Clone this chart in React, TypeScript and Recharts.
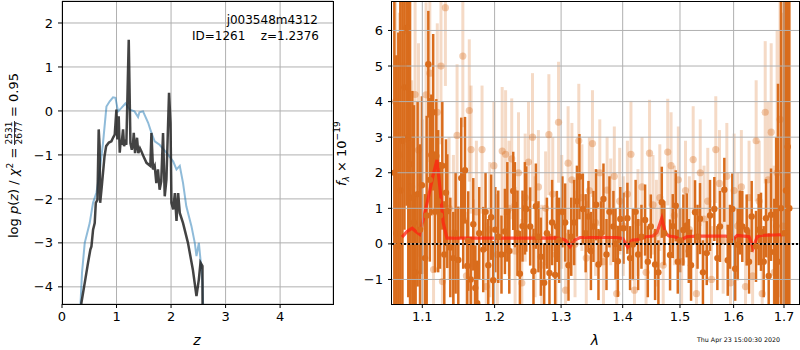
import React from "react"
import {
  ComposedChart,
  Line,
  Scatter,
  ErrorBar,
  XAxis,
  YAxis,
  CartesianGrid,
  ReferenceLine,
} from "recharts"

// ---- left panel: log p(z) ----
const zBlue = [0.335, 0.367, 0.417, 0.508, 0.569, 0.631, 0.68, 0.752, 0.815, 0.875, 0.936, 0.98, 1.028, 1.09, 1.163, 1.24, 1.33, 1.395, 1.42, 1.486, 1.58, 1.64, 1.7, 1.79, 1.916, 2.04, 2.1, 2.16, 2.22, 2.28, 2.374, 2.435, 2.466, 2.51, 2.545, 2.576, 2.59]
const pzBlue = [-4.5, -3.68, -3.0, -2.55, -2.09, -1.86, -1.49, -0.73, 0.1, 0.22, 0.31, 0.3, -0.01, 0.07, 0.17, 0.03, -0.01, -0.14, -0.03, -0.01, -0.27, -0.5, -0.69, -0.77, -0.95, -1.15, -1.33, -1.25, -1.64, -2.17, -2.62, -3.0, -3.3, -3.0, -3.45, -3.91, -4.5]

const zChi = [0.35, 0.356, 0.417, 0.478, 0.52, 0.54, 0.57, 0.6, 0.62, 0.65, 0.673, 0.69, 0.7, 0.73, 0.78, 0.81, 0.86, 0.906, 0.94, 0.967, 0.998, 1.016, 1.04, 1.059, 1.075, 1.09, 1.12, 1.138, 1.16, 1.18, 1.224, 1.255, 1.28, 1.3, 1.316, 1.34, 1.376, 1.4, 1.43, 1.457, 1.5, 1.55, 1.62, 1.64, 1.67, 1.7, 1.73, 1.76, 1.79, 1.82, 1.853, 1.884, 1.915, 1.963, 1.99, 2.007, 2.04, 2.07, 2.1, 2.13, 2.16, 2.22, 2.31, 2.4, 2.466, 2.51, 2.54, 2.576, 2.578]
const pzChi = [-4.5, -4.36, -3.91, -3.45, -3.15, -3.08, -2.7, -2.55, -2.09, -2.02, -0.42, -0.8, -2.09, -1.71, -1.03, -0.8, -0.72, -0.69, -0.6, -0.54, 0.03, -0.65, -0.12, -0.95, -0.7, -0.77, -0.42, -0.8, -0.72, -0.77, 1.62, -0.73, -0.88, -0.78, -0.5, -0.96, -0.61, -0.96, -0.85, -0.92, -1.05, -1.18, -1.25, -0.5, -1.33, -1.25, -1.64, -1.33, -1.79, -1.6, -0.5, -1.94, -1.56, 0.41, -0.27, -2.09, -2.24, -1.87, -2.5, -1.87, -2.32, -2.55, -3.0, -3.61, -4.21, -3.83, -3.45, -3.53, -4.5]

const zTicks = [0, 1, 2, 3, 4]
const pzTicks = [-4, -3, -2, -1, 0, 1, 2]

// ---- right panel: spectrum ----
const darkLam = [1.0636, 1.0661, 1.0687, 1.0713, 1.074, 1.0766, 1.0794, 1.0816, 1.0839, 1.0869, 1.089, 1.0912, 1.0938, 1.097, 1.0995, 1.1036, 1.1058, 1.108, 1.11, 1.112, 1.1145, 1.1169, 1.1187, 1.1212, 1.1237, 1.1268, 1.1295, 1.1318, 1.1336, 1.1377, 1.1418, 1.145, 1.1487, 1.1528, 1.1555, 1.158, 1.1612, 1.1625, 1.166, 1.1696, 1.1724, 1.1752, 1.178, 1.1837, 1.187, 1.1909, 1.195, 1.198, 1.201, 1.2053, 1.21, 1.215, 1.2185, 1.2214, 1.2272, 1.2297, 1.2335, 1.2371, 1.241, 1.2446, 1.2466, 1.2525, 1.2575, 1.2611, 1.265, 1.2687, 1.2738, 1.278, 1.2819, 1.286, 1.2907, 1.2934, 1.297, 1.302, 1.3064, 1.3116, 1.316, 1.3206, 1.325, 1.329, 1.3345, 1.339, 1.3435, 1.3475, 1.3516, 1.356, 1.3598, 1.364, 1.368, 1.373, 1.3779, 1.3845, 1.388, 1.3919, 1.396, 1.4013, 1.408, 1.4125, 1.4172, 1.422, 1.4263, 1.432, 1.4383, 1.443, 1.4482, 1.4557, 1.4615, 1.4675, 1.472, 1.4822, 1.487, 1.4924, 1.496, 1.5001, 1.5061, 1.5123, 1.516, 1.5201, 1.5274, 1.532, 1.5366, 1.542, 1.5491, 1.5552, 1.5633, 1.569, 1.574, 1.5822, 1.5887, 1.593, 1.5975, 1.603, 1.6079, 1.612, 1.6168, 1.6254, 1.63, 1.6352, 1.6437, 1.649, 1.6536, 1.659, 1.6636, 1.669, 1.6737, 1.6803, 1.684, 1.6878, 1.6939, 1.7, 1.704, 1.7076, 1.711]
const darkFlux = [2.0, 0.3, -0.06, 1.5, 2.9, 4.4, 6.07, 3.0, 2.24, 1.3, 0.6, -0.8, 1.4, 0.4, 1.65, -0.4, 0.8, 5.05, 1.8, 2.5, 3.7, 0.9, 2.47, 1.2, 0.8, 2.2, -0.3, 1.44, 0.92, -0.1, -0.4, 0.3, -0.45, 1.85, 0.7, 2.07, -0.62, 0.08, -1.0, 0.55, -1.24, -1.67, 0.3, -0.16, 0.9, -0.6, 0.75, -1.02, 0.4, 0.2, -0.3, 0.35, 0.9, -0.2, 1.49, 1.1, 0.3, -0.84, 0.5, 1.0, 0.98, 0.49, -0.77, 1.06, 0.2, -0.36, -1.09, 0.3, -0.82, 0.6, -0.87, 0.49, 0.1, 0.9, 0.6, -0.6, 0.2, 0.6, 1.2, 1.89, 0.98, 0.3, 0.77, -0.2, 0.49, 1.1, -0.58, 0.3, 1.26, -0.3, 0.9, 0.49, 0.0, -0.49, 0.7, 0.44, 0.72, -0.4, -0.02, 0.9, -0.3, 0.2, 0.67, -0.5, 0.49, -0.58, -0.8, 1.17, 0.3, -0.31, 0.5, 1.07, -0.5, 0.1, 0.39, 0.52, -0.2, -0.6, 0.89, 0.2, 0.71, -0.8, -0.26, 0.8, 0.98, -0.4, 0.49, 1.52, -0.46, 0.2, 0.98, -0.7, -0.02, 0.6, 0.49, 0.39, -0.5, 0.77, -0.07, 0.4, 0.34, -0.5, 0.72, -0.9, 0.82, -0.23, 0.5, -0.5, 1.0, 0.3, 1.5, 2.73, 1.0]
const darkErr = [6, 5, 6, 6, 5, 4, 5, 4.5, 5, 3.0, 3.3, 2.2, 2.6, 2.4, 2.5, 1.8, 2.8, 1.5, 2.3, 1.7, 2.2, 1.7, 1.6, 2.0, 1.5, 1.8, 1.5, 1.5, 1.6, 1.4, 1.3, 1.7, 1.5, 1.7, 1.4, 1.5, 1.3, 1.4, 1.2, 1.3, 1.2, 1.2, 1.3, 1.2, 1.1, 1.3, 1.2, 1.1, 1.2, 1.3, 1.1, 1.2, 1.4, 1.2, 1.1, 1.2, 1.2, 1.2, 1.0, 1.3, 1.2, 1.1, 1.2, 1.2, 1.0, 1.1, 1.1, 1.0, 1.1, 1.2, 1.1, 1.0, 1.2, 1.0, 1.1, 1.0, 1.1, 1.2, 1.0, 1.2, 1.0, 1.1, 1.0, 1.1, 1.0, 1.0, 1.0, 0.9, 1.0, 1.0, 1.0, 1.0, 1.0, 1.0, 0.9, 1.0, 1.0, 0.9, 1.0, 0.9, 1.0, 0.9, 1.0, 1.0, 0.9, 1.0, 0.9, 1.0, 0.9, 1.0, 0.9, 1.0, 0.9, 0.9, 1.0, 0.9, 0.9, 1.0, 0.9, 0.9, 1.0, 0.9, 0.9, 1.0, 0.9, 0.9, 1.0, 0.9, 1.0, 0.9, 1.0, 0.9, 1.0, 0.9, 1.0, 1.0, 0.9, 1.0, 1.0, 1.0, 1.1, 1.0, 1.1, 1.2, 1.3, 1.5, 2.5, 5, 6, 7, 8, 9, 9]

const lightLam = [1.065, 1.07, 1.075, 1.08, 1.083, 1.086, 1.0905, 1.095, 1.1, 1.105, 1.11, 1.115, 1.12, 1.125, 1.127, 1.131, 1.136, 1.142, 1.147, 1.155, 1.16, 1.164, 1.1665, 1.17, 1.174, 1.182, 1.188, 1.193, 1.199, 1.204, 1.211, 1.216, 1.221, 1.225, 1.23, 1.235, 1.24, 1.245, 1.25, 1.256, 1.26, 1.265, 1.27, 1.276, 1.281, 1.287, 1.292, 1.296, 1.301, 1.307, 1.311, 1.317, 1.322, 1.328, 1.333, 1.34, 1.345, 1.35, 1.355, 1.362, 1.368, 1.374, 1.38, 1.386, 1.39, 1.395, 1.401, 1.408, 1.414, 1.42, 1.426, 1.433, 1.44, 1.446, 1.452, 1.458, 1.464, 1.47, 1.478, 1.484, 1.49, 1.497, 1.503, 1.51, 1.517, 1.524, 1.53, 1.537, 1.544, 1.551, 1.558, 1.566, 1.573, 1.58, 1.587, 1.594, 1.601, 1.608, 1.615, 1.623, 1.63, 1.637, 1.644, 1.65, 1.656, 1.662, 1.668, 1.674, 1.68, 1.686, 1.692, 1.698]
const lightFlux = [4.0, 2.5, 5.0, 6.0, 2.8, 1.6, 4.2, 2.64, 0.5, 4.19, 4.8, -0.72, 3.7, 5.0, -1.06, 6.64, 1.0, 0.3, 3.05, 5.28, -0.9, 3.75, 2.65, -0.55, 0.9, 2.65, -1.2, 0.4, 2.2, -0.3, 2.61, 2.52, 1.0, 2.39, -0.2, 2.0, -1.1, 1.3, 2.3, 3.0, 0.2, 1.6, -0.6, 1.0, 3.07, 1.4, -0.3, 3.42, 0.9, -1.3, 2.27, 1.8, 0.0, 2.9, 1.3, -0.4, 1.5, 2.82, 0.6, 2.0, -0.5, 1.51, 0.9, 1.9, -1.4, 1.2, 0.5, 1.4, 2.52, -1.3, 0.6, 1.6, -0.8, 2.55, 1.1, 0.3, 1.3, -0.6, 2.58, 2.2, 0.8, 1.8, -0.5, 1.5, 0.4, 2.37, -1.4, 2.0, 0.7, 1.2, -1.0, 2.65, 1.7, 0.1, 1.9, -1.1, 1.5, 0.5, 1.6, -1.2, 1.3, -0.9, 2.9, 1.2, -1.4, 3.7, 1.8, 3.14, -0.8, 2.0, 3.5, 0.5]
const lightErr = [4, 4, 3.5, 3, 3.5, 3, 3, 3, 3, 2.6, 2.5, 2.5, 2.5, 2.2, 2.0, 2.2, 2.0, 2.2, 2.0, 2.0, 1.8, 2.0, 1.8, 1.8, 2.0, 1.8, 1.8, 1.9, 1.8, 1.7, 1.8, 1.8, 1.9, 1.7, 1.8, 1.7, 1.8, 1.8, 1.7, 1.8, 1.7, 1.6, 1.7, 1.6, 1.7, 1.6, 1.6, 1.7, 1.6, 1.6, 1.6, 1.6, 1.5, 1.6, 1.5, 1.6, 1.5, 1.5, 1.5, 1.5, 1.5, 1.5, 1.5, 1.4, 1.5, 1.5, 1.4, 1.5, 1.5, 1.4, 1.5, 1.4, 1.5, 1.5, 1.4, 1.5, 1.5, 1.4, 1.5, 1.5, 1.4, 1.5, 1.5, 1.4, 1.5, 1.5, 1.4, 1.5, 1.5, 1.5, 1.5, 1.5, 1.5, 1.5, 1.5, 1.5, 1.6, 1.5, 1.6, 1.6, 1.6, 1.6, 1.7, 1.7, 1.8, 2.0, 2.2, 2.5, 3, 4, 5, 6]

const modelLam = [1.0735, 1.08, 1.0866, 1.0915, 1.0965, 1.102, 1.108, 1.114, 1.1196, 1.124, 1.128, 1.1331, 1.16, 1.2, 1.25, 1.29, 1.3, 1.307, 1.314, 1.321, 1.33, 1.35, 1.39, 1.4, 1.4087, 1.416, 1.425, 1.44, 1.452, 1.459, 1.4675, 1.474, 1.48, 1.49, 1.503, 1.512, 1.53, 1.56, 1.585, 1.5995, 1.607, 1.62, 1.63, 1.638, 1.646, 1.655, 1.68, 1.7]
const modelFlux = [0.19, 0.35, 0.44, 0.35, 0.27, 0.75, 1.3, 1.9, 2.36, 1.5, 0.6, 0.16, 0.16, 0.16, 0.16, 0.17, 0.15, 0.1, -0.08, 0.1, 0.18, 0.18, 0.18, 0.15, -0.09, 0.1, 0.12, 0.2, 0.22, 0.32, 0.72, 0.3, 0.22, 0.2, 0.12, 0.2, 0.22, 0.22, 0.22, 0.14, 0.24, 0.22, 0.2, -0.12, 0.2, 0.24, 0.25, 0.26]

const lamTicks = [1.1, 1.2, 1.3, 1.4, 1.5, 1.6, 1.7]
const fluxTicks = [-1, 0, 1, 2, 3, 4, 5, 6]

const blueData = zBlue.map((z, i) => ({ x: z, y: pzBlue[i] }))
const chiData = zChi.map((z, i) => ({ x: z, y: pzChi[i] }))
const darkData = darkLam.map((l, i) => ({ x: l, y: darkFlux[i], err: darkErr[i] }))
const lightData = lightLam.map((l, i) => ({ x: l, y: lightFlux[i], err: lightErr[i] }))
const modelData = modelLam.map((l, i) => ({ x: l, y: modelFlux[i] }))

const ORANGE = "#d96c1c"
const GRID = "#b0b0b0"
const minus = (v: number) => String(v).replace("-", "\u2212")
const tickStyle = { fontSize: 13, fill: "#000" }

const darkDot = (p: any) => <circle cx={p.cx} cy={p.cy} r={3.2} fill={ORANGE} />
const lightDot = (p: any) => <circle cx={p.cx} cy={p.cy} r={3.6} fill={ORANGE} fillOpacity={0.35} />

// right panel geometry (chart placed at x=340)
const R_W = 460
const R_H = 350
const R_MARGIN = { top: 2, right: 1, bottom: 16, left: 0 }
const R_YW = 52

const lamAxis = (
  <XAxis
    dataKey="x"
    type="number"
    scale="log"
    domain={[1.0606, 1.731]}
    ticks={lamTicks}
    allowDataOverflow
    axisLine={false}
    tickLine={{ stroke: "#000" }}
    tickSize={4}
    tickMargin={4}
    height={30}
    tick={tickStyle}
    tickFormatter={(v: number) => v.toFixed(1)}
  />
)
const fluxAxis = (
  <YAxis
    dataKey="y"
    type="number"
    domain={[-1.69, 6.8]}
    ticks={fluxTicks}
    allowDataOverflow
    axisLine={false}
    tickLine={{ stroke: "#000" }}
    tickSize={4}
    tickMargin={5}
    width={R_YW}
    tick={tickStyle}
    tickFormatter={minus}
  />
)

const Frame = ({ l, t, w, h }: { l: number; t: number; w: number; h: number }) => (
  <div
    style={{
      position: "absolute",
      left: l,
      top: t,
      width: w,
      height: h,
      border: "1px solid #000",
      boxSizing: "border-box",
      pointerEvents: "none",
    }}
  />
)

export default function App() {
  return (
    <div
      style={{
        position: "absolute",
        left: 0,
        top: 0,
        width: 800,
        height: 350,
        background: "#fff",
        fontFamily: "DejaVu Sans",
        overflow: "hidden",
      }}
    >
      <div style={{ position: "absolute", left: 0, top: 0 }}>
        <ComposedChart width={340} height={350} margin={{ top: 1, right: 7, bottom: 16, left: 0 }}>
          <CartesianGrid stroke={GRID} strokeWidth={1} />
          <XAxis
            dataKey="x"
            type="number"
            domain={[0, 4.97]}
            ticks={zTicks}
            allowDataOverflow
            axisLine={false}
            tickLine={{ stroke: "#000" }}
            tickSize={4}
            tickMargin={4}
            height={30}
            tick={tickStyle}
          />
          <YAxis
            dataKey="y"
            type="number"
            domain={[-4.39, 2.5]}
            ticks={pzTicks}
            allowDataOverflow
            axisLine={false}
            tickLine={{ stroke: "#000" }}
            tickSize={4}
            tickMargin={5}
            width={62}
            tick={tickStyle}
            tickFormatter={minus}
          />
          <Line data={blueData} dataKey="y" stroke="#1f77b4" strokeOpacity={0.5} strokeWidth={2} dot={false} isAnimationActive={false} />
          <Line data={chiData} dataKey="y" stroke="#222" strokeOpacity={0.85} strokeWidth={2.5} dot={false} isAnimationActive={false} />
        </ComposedChart>
      </div>

      {/* right panel: axes only */}
      <div style={{ position: "absolute", left: 340, top: 0 }}>
        <ComposedChart width={R_W} height={R_H} margin={R_MARGIN} data={modelData}>
          {lamAxis}
          {fluxAxis}
        </ComposedChart>
      </div>

      {/* right panel: data, clipped to the plot area */}
      <div
        style={{
          position: "absolute",
          left: 340,
          top: 0,
          clipPath: `inset(${R_MARGIN.top}px ${R_MARGIN.right}px ${R_H - 304}px ${R_YW}px)`,
        }}
      >
        <ComposedChart width={R_W} height={R_H} margin={R_MARGIN}>
          {lamAxis}
          {fluxAxis}
          <Scatter data={lightData} dataKey="y" shape={lightDot} isAnimationActive={false}>
            <ErrorBar dataKey="err" direction="y" width={0} stroke={ORANGE} strokeOpacity={0.25} strokeWidth={3} isAnimationActive={false} />
          </Scatter>
          <Scatter data={darkData} dataKey="y" shape={darkDot} isAnimationActive={false}>
            <ErrorBar dataKey="err" direction="y" width={0} stroke={ORANGE} strokeWidth={2.5} isAnimationActive={false} />
          </Scatter>
          <Line data={modelData} dataKey="y" stroke="#ff2010" strokeOpacity={0.75} strokeWidth={3.2} dot={false} isAnimationActive={false} />
          {lamTicks.map((t) => (
            <ReferenceLine key={`gx${t}`} x={t} stroke={GRID} strokeWidth={1} />
          ))}
          {fluxTicks.map((t) => (
            <ReferenceLine key={`gy${t}`} y={t} stroke={GRID} strokeWidth={1} />
          ))}
          <ReferenceLine y={0} stroke="#000" strokeDasharray="2 2" strokeWidth={2} />
        </ComposedChart>
      </div>

      <Frame l={62} t={1} w={272} h={304} />
      <Frame l={391} t={1} w={409} h={304} />

      <svg width={800} height={350} style={{ position: "absolute", left: 0, top: 0, pointerEvents: "none" }}>
        <g fontFamily="DejaVu Sans" fill="#000">
          <text x={318} y={24} fontSize={12} textAnchor="end">j003548m4312</text>
          <text x={319} y={39.5} fontSize={12} textAnchor="end" style={{ whiteSpace: "pre" }}>
            {"ID=1261    z=1.2376"}
          </text>

          <g transform="translate(13,153) rotate(-90)">
            <text x={-85} y={5} fontSize={13}>
              log <tspan fontStyle="italic">p</tspan>(<tspan fontStyle="italic">z</tspan>) / <tspan fontStyle="italic">χ</tspan>
              <tspan dy={-5} fontSize={9}>2</tspan>
              <tspan dy={5}> =</tspan>
            </text>
            <text x={20} y={-1} fontSize={9} textAnchor="middle">2531</text>
            <line x1={8} x2={32} y1={1.5} y2={1.5} stroke="#000" strokeWidth={0.8} />
            <text x={20} y={8.5} fontSize={9} textAnchor="middle">2677</text>
            <text x={36} y={5} fontSize={13}>= 0.95</text>
          </g>

          <g transform="translate(346,153) rotate(-90)">
            <text x={-33} y={0} fontSize={13}>
              <tspan fontStyle="italic">f</tspan>
              <tspan dy={3} fontSize={9} fontStyle="italic">λ</tspan>
              <tspan dy={-3}> × 10</tspan>
              <tspan dy={-6} fontSize={9}>−19</tspan>
            </text>
          </g>

          <text x={197} y={345} fontSize={14} fontStyle="italic" textAnchor="middle">z</text>
          <text x={595} y={345} fontSize={14} fontStyle="italic" textAnchor="middle">λ</text>
          <text x={697} y={342} fontSize={6.3}>Thu Apr 23 15:00:30 2020</text>
        </g>
      </svg>
    </div>
  )
}
